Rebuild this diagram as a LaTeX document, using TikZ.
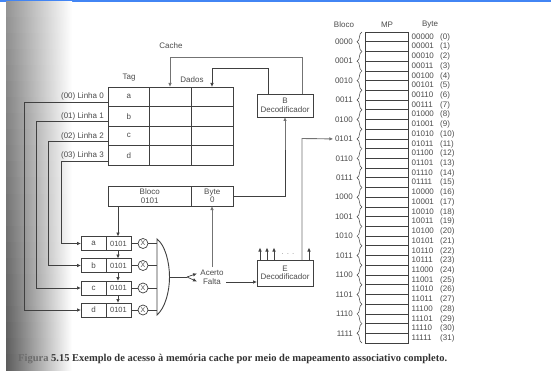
\documentclass[tikz,border=0pt]{standalone}
\usepackage{fontspec}
\setmainfont{Liberation Sans}
\newfontfamily\capfont{Liberation Serif}
\usetikzlibrary{arrows.meta,decorations.pathreplacing,calc}
\definecolor{ink}{gray}{0.25}
\definecolor{txt}{gray}{0.3}
\definecolor{barblue}{RGB}{66,133,244}
\tikzset{
  box/.style={draw=ink,line width=0.9pt,inner sep=0pt,outer sep=0pt,align=center,font=\fontsize{8}{9.5}\selectfont,text=txt,anchor=north west},
  lbl/.style={font=\fontsize{8}{9}\selectfont,text=txt,inner sep=0pt},
  wire/.style={draw=ink,line width=0.7pt},
  paleWire/.style={draw=black!55,line width=0.9pt},
  arr/.style={wire,-{Latex[length=4pt,width=3.5pt]}},
  palearr/.style={paleWire,-{Latex[length=4pt,width=3.5pt]}},
  xor/.style={draw=ink,circle,line width=0.7pt,minimum size=10pt,inner sep=0pt,font=\fontsize{7}{7}\selectfont,text=txt},
  brc/.style={draw=ink,line width=0.5pt,decorate,decoration={brace,amplitude=5pt,mirror}},
}
\begin{document}
\begin{tikzpicture}[x=1pt,y=-1pt]
\useasboundingbox (0,0) rectangle (551,374);
\fill[white] (0,0) rectangle (551,374);
\fill[barblue] (0,0) rectangle (551,2);
% page-edge shadow, darkening towards the bottom
\foreach \s in {0,...,45}{
  \pgfmathsetmacro\dk{int(42+0.5*\s)}
  \pgfmathsetmacro\yt{2+8*\s}
  \pgfmathsetmacro\yb{min(374,10+8*\s+0.5)}
  \fill[left color=black!\dk,right color=white] (6,\yt) rectangle (72,\yb);
}
% Cache table
\foreach \r/\t/\ya in {0/a/87,1/b/106.5,2/c/126,3/d/145.5}{
  \node[box,minimum width=41.5pt,minimum height=19.5pt] (tag\r) at (108,\ya) {\t};
  \node[box,minimum width=42pt,minimum height=19.5pt] (dat\r) at (149.5,\ya) {};
  \node[box,minimum width=41.5pt,minimum height=19.5pt] (dbb\r) at (191.5,\ya) {};
}
\node[lbl] (cachelbl) at (171,46) {Cache};
\node[lbl] (taglbl) at (129,78) {Tag};
\node[lbl] (dadoslbl) at (192,80) {Dados};
\node[box,minimum width=56pt,minimum height=23pt] (B) at (257,94) {B\\[-1pt]Decodificador};
\coordinate (c1) at (170,87);
\coordinate (c2) at (212,87);
\coordinate (bt1) at (302,94);
\coordinate (bt2) at (268,94);
\coordinate (bb) at (285,117);
\draw[palearr] (bt1) |- (170,57) -- (c1);
\draw[arr] (bt2) |- (212,68) -- (c2);
% Linhas
\node[lbl,anchor=east] (l0) at (104,96.5) {(00) Linha 0};
\node[lbl,anchor=east] (l1) at (104,116.5) {(01) Linha 1};
\node[lbl,anchor=east] (l2) at (104,136) {(02) Linha 2};
\node[lbl,anchor=east] (l3) at (104,155.5) {(03) Linha 3};
% Bloco register
\node[box,minimum width=83.5pt,minimum height=20pt] (bl) at (108,186) {Bloco\\[-1pt]0101};
\node[box,minimum width=41.5pt,minimum height=20pt] (by) at (191.5,186) {Byte\\[-1pt]0};
% Compare rows
\foreach \r/\t/\ya in {0/a/236.5,1/b/258.5,2/c/281,3/d/303}{
  \node[box,minimum width=25pt,minimum height=14pt] (ct\r) at (81,\ya) {\t};
  \node[box,minimum width=25pt,minimum height=14pt] (cb\r) at (106,\ya) {\fontsize{7.5}{8}\selectfont 0101};
  \node[xor] (x\r) at (143,\ya+7) {X};
  \coordinate (gi\r) at (157,\ya+7);
  \draw[wire] (cb\r.east) -- (x\r.west);
  \draw[wire] (x\r.east) -- (gi\r);
}
\coordinate (w0) at (108,102);
\coordinate (w1) at (108,121.5);
\coordinate (w2) at (108,141);
\coordinate (w3) at (108,161);
\draw[arr] (w0) -- (24,102) |- (ct3.west);
\draw[arr] (w1) -- (36,121.5) |- (ct2.west);
\draw[arr] (w2) -- (48.5,141) |- (ct1.west);
\draw[arr] (w3) -- (61,161) |- (ct0.west);
\coordinate (bo) at (118,206);
\coordinate (ci0) at (118,236.5);
\coordinate (co0) at (118,250.5);
\coordinate (ci1) at (118,258.5);
\coordinate (co1) at (118,272.5);
\coordinate (ci2) at (118,281);
\coordinate (co2) at (118,295);
\coordinate (ci3) at (118,303);
\draw[arr] (bo) -- (ci0);
\draw[arr] (co0) -- (ci1);
\draw[arr] (co1) -- (ci2);
\draw[arr] (co2) -- (ci3);
% OR gate
\coordinate (gt) at (169.5,277);
\draw[ink,line width=0.9pt] (157,239) .. controls (165,245) and (169.5,262) .. (gt) .. controls (169.5,292) and (165,308) .. (157,315) -- cycle;
\node[lbl] (ac) at (212,273) {Acerto};
\node[lbl] (fa) at (212,282) {Falta};
\coordinate (fk) at (187,277);
\coordinate (ft1) at (197,273.5);
\coordinate (ft2) at (197,281.5);
\draw[wire] (gt) -- (fk);
\draw[arr] (fk) -- (ft1);
\draw[arr] (fk) -- (ft2);
\coordinate (byb) at (212,206);
\coordinate (act) at (212,267);
\draw[palearr] (act) -- (byb);
\node[box,minimum width=56pt,minimum height=26pt] (E) at (257,260) {E\\[-1pt]Decodificador};
\coordinate (fs) at (226,282);
\draw[arr] (fs) -- (E.west |- fs);
\draw[wire] (by.east) -- (285,196) -- (285,150);
\draw[palearr] (285,150) -- (bb);
\foreach \xx in {260,267,274,309}{
  \coordinate (et) at (\xx,260);
  \coordinate (eh) at (\xx,247.5);
  \draw[arr] (et) -- (eh);
}
\node[lbl,text=black!40] (dots) at (288,254) {. . .};
% Memory
\node[lbl] (hb) at (344,25) {Bloco};
\node[lbl] (hm) at (387,25) {MP};
\node[lbl] (hy) at (430,25) {Byte};
\foreach \i/\bits in {0/00000,1/00001,2/00010,3/00011,4/00100,5/00101,6/00110,7/00111,8/01000,9/01001,10/01010,11/01011,12/01100,13/01101,14/01110,15/01111,16/10000,17/10001,18/10010,19/10011,20/10100,21/10101,22/10110,23/10111,24/11000,25/11001,26/11010,27/11011,28/11100,29/11101,30/11110,31/11111}{
  \pgfmathsetmacro\yy{32+9.72*\i}
  \node[box,minimum width=42.5pt,minimum height=9.72pt,line width=0.7pt] (m\i) at (365.5,\yy) {};
  \node[lbl,anchor=base west] (mb\i) at (411.5,\yy+7.2) {\bits};
  \node[lbl,anchor=base west] (mn\i) at (440,\yy+7.2) {(\i)};
}
\foreach \i/\bits in {0/0000,1/0001,2/0010,3/0011,4/0100,5/0101,6/0110,7/0111,8/1000,9/1001,10/1010,11/1011,12/1100,13/1101,14/1110,15/1111}{
  \pgfmathsetmacro\ya{32+19.44*\i}
  \pgfmathsetmacro\yb{\ya+19.44}
  \pgfmathsetmacro\ym{\ya+9.72}
  \draw[brc] (362,\ya) -- (362,\yb);
  \node[lbl,anchor=east] (bk\i) at (353,\ym) {\bits};
}
\coordinate (ep) at (302,260);
\draw[palearr] (ep) -- (302,138.5) -- ($(bk5.west)+(-1.5,0)$);
% Caption
\node[font=\capfont\bfseries\fontsize{10.5}{12}\selectfont,text=black!80,inner sep=0pt,anchor=base west] (cap) at (18,361) {\textcolor{black!58}{Figura} 5.15 Exemplo de acesso à memória cache por meio de mapeamento associativo completo.};
\end{tikzpicture}
\end{document}
